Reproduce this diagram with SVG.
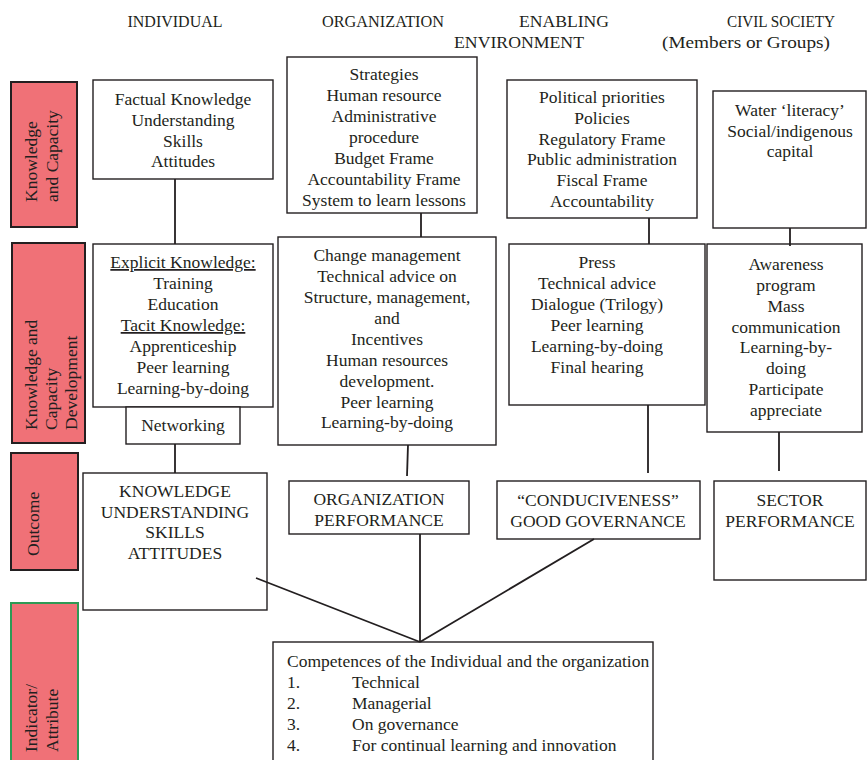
<svg xmlns="http://www.w3.org/2000/svg" width="867" height="760" viewBox="0 0 867 760">
  <style>
    .bg { fill: #ffffff; }
    .box { fill: #ffffff; stroke: #231f20; stroke-width: 1.4; }
    .side { fill: #f07177; stroke: #231f20; stroke-width: 2; }
    .side-g { fill: #f07177; stroke: #2e9a55; stroke-width: 2; }
    text { font-family: "Liberation Serif", "Times New Roman", serif; fill: #231f20; }
    .t { font-size: 17.5px; text-anchor: middle; }
    .l { font-size: 17.5px; text-anchor: start; }
    .h { font-size: 17px; text-anchor: middle; }
    .v { font-size: 17.5px; text-anchor: start; }
    .u { text-decoration: underline; }
    .conn line { stroke: #231f20; stroke-width: 1.8; fill: none; }
  </style>

  <rect class="bg" x="0" y="0" width="867" height="760"/>

  <!-- column headings -->
  <g id="headings">
    <text class="h" x="175" y="27" textLength="95" lengthAdjust="spacingAndGlyphs">INDIVIDUAL</text>
    <text class="h" x="383" y="27" textLength="122" lengthAdjust="spacingAndGlyphs">ORGANIZATION</text>
    <text class="h" x="564" y="27" textLength="90" lengthAdjust="spacingAndGlyphs">ENABLING</text>
    <text class="h" x="519" y="48" textLength="130" lengthAdjust="spacingAndGlyphs">ENVIRONMENT</text>
    <text class="h" x="781" y="27" textLength="108" lengthAdjust="spacingAndGlyphs">CIVIL SOCIETY</text>
    <text class="h" x="746" y="48" textLength="168" lengthAdjust="spacingAndGlyphs">(Members or Groups)</text>
  </g>

  <!-- row labels (vertical) -->
  <g id="row-knowledge">
    <rect class="side" x="11" y="82" width="66" height="145"/>
    <text class="v" transform="translate(37,202) rotate(-90)">Knowledge</text>
    <text class="v" transform="translate(58,202) rotate(-90)">and Capacity</text>
  </g>
  <g id="row-development">
    <rect class="side" x="12" y="243" width="73" height="200"/>
    <text class="v" transform="translate(37,430) rotate(-90)">Knowledge and</text>
    <text class="v" transform="translate(57,430) rotate(-90)">Capacity</text>
    <text class="v" transform="translate(77,430) rotate(-90)">Development</text>
  </g>
  <g id="row-outcome">
    <rect class="side" x="11" y="453" width="67" height="117"/>
    <text class="v" transform="translate(39,556) rotate(-90)">Outcome</text>
  </g>
  <g id="row-indicator">
    <rect class="side-g" x="11" y="603" width="67" height="165"/>
    <text class="v" transform="translate(37,752) rotate(-90)">Indicator/</text>
    <text class="v" transform="translate(58,752) rotate(-90)">Attribute</text>
  </g>

  <!-- individual column -->
  <g id="ind-knowledge">
    <rect class="box" x="93" y="80" width="180" height="99"/>
    <text class="t" x="183" y="105">Factual Knowledge</text>
    <text class="t" x="183" y="126">Understanding</text>
    <text class="t" x="183" y="147">Skills</text>
    <text class="t" x="183" y="167">Attitudes</text>
  </g>
  <g id="ind-development">
    <rect class="box" x="93" y="244" width="180" height="163"/>
    <text class="t u" x="183" y="268">Explicit Knowledge:</text>
    <text class="t" x="183" y="289">Training</text>
    <text class="t" x="183" y="310">Education</text>
    <text class="t u" x="183" y="331">Tacit Knowledge:</text>
    <text class="t" x="183" y="352">Apprenticeship</text>
    <text class="t" x="183" y="373">Peer learning</text>
    <text class="t" x="183" y="394">Learning-by-doing</text>
  </g>
  <g id="ind-networking">
    <rect class="box" x="126" y="407" width="114" height="37"/>
    <text class="t" x="183" y="431">Networking</text>
  </g>
  <g id="ind-outcome">
    <rect class="box" x="83" y="473" width="184" height="137"/>
    <text class="t" x="175" y="497">KNOWLEDGE</text>
    <text class="t" x="175" y="518">UNDERSTANDING</text>
    <text class="t" x="175" y="538">SKILLS</text>
    <text class="t" x="175" y="559">ATTITUDES</text>
  </g>

  <!-- organization column -->
  <g id="org-knowledge">
    <rect class="box" x="287" y="57" width="190" height="156"/>
    <text class="t" x="384" y="80">Strategies</text>
    <text class="t" x="384" y="101">Human resource</text>
    <text class="t" x="384" y="122">Administrative</text>
    <text class="t" x="384" y="143">procedure</text>
    <text class="t" x="384" y="164">Budget Frame</text>
    <text class="t" x="384" y="185">Accountability Frame</text>
    <text class="t" x="384" y="206">System to learn lessons</text>
  </g>
  <g id="org-development">
    <rect class="box" x="278" y="237" width="218" height="208"/>
    <text class="t" x="387" y="261">Change management</text>
    <text class="t" x="387" y="282">Technical advice on</text>
    <text class="t" x="387" y="303">Structure, management,</text>
    <text class="t" x="387" y="324">and</text>
    <text class="t" x="387" y="345">Incentives</text>
    <text class="t" x="387" y="366">Human resources</text>
    <text class="t" x="387" y="387">development.</text>
    <text class="t" x="387" y="408">Peer learning</text>
    <text class="t" x="387" y="428">Learning-by-doing</text>
  </g>
  <g id="org-outcome">
    <rect class="box" x="289" y="481" width="180" height="53"/>
    <text class="t" x="379" y="505">ORGANIZATION</text>
    <text class="t" x="379" y="526">PERFORMANCE</text>
  </g>

  <!-- enabling environment column -->
  <g id="env-knowledge">
    <rect class="box" x="507" y="80" width="190" height="138"/>
    <text class="t" x="602" y="103">Political priorities</text>
    <text class="t" x="602" y="124">Policies</text>
    <text class="t" x="602" y="145">Regulatory Frame</text>
    <text class="t" x="602" y="165">Public administration</text>
    <text class="t" x="602" y="186">Fiscal Frame</text>
    <text class="t" x="602" y="207">Accountability</text>
  </g>
  <g id="env-development">
    <rect class="box" x="509" y="244" width="196" height="161"/>
    <text class="t" x="597" y="268">Press</text>
    <text class="t" x="597" y="289">Technical advice</text>
    <text class="t" x="597" y="310">Dialogue (Trilogy)</text>
    <text class="t" x="597" y="331">Peer learning</text>
    <text class="t" x="597" y="352">Learning-by-doing</text>
    <text class="t" x="597" y="373">Final hearing</text>
  </g>
  <g id="env-outcome">
    <rect class="box" x="497" y="481" width="203" height="58"/>
    <text class="t" x="598" y="506">“CONDUCIVENESS”</text>
    <text class="t" x="598" y="527">GOOD GOVERNANCE</text>
  </g>

  <!-- civil society column -->
  <g id="civ-knowledge">
    <rect class="box" x="713" y="91" width="153" height="137"/>
    <text class="t" x="790" y="116">Water ‘literacy’</text>
    <text class="t" x="790" y="137">Social/indigenous</text>
    <text class="t" x="790" y="157">capital</text>
  </g>
  <g id="civ-development">
    <rect class="box" x="707" y="244" width="155" height="188"/>
    <text class="t" x="786" y="270">Awareness</text>
    <text class="t" x="786" y="291">program</text>
    <text class="t" x="786" y="312">Mass</text>
    <text class="t" x="786" y="333">communication</text>
    <text class="t" x="786" y="353">Learning-by-</text>
    <text class="t" x="786" y="374">doing</text>
    <text class="t" x="786" y="395">Participate</text>
    <text class="t" x="786" y="416">appreciate</text>
  </g>
  <g id="civ-outcome">
    <rect class="box" x="714" y="481" width="152" height="99"/>
    <text class="t" x="790" y="506">SECTOR</text>
    <text class="t" x="790" y="527">PERFORMANCE</text>
  </g>

  <!-- competences -->
  <g id="competences">
    <rect class="box" x="273" y="642" width="380" height="130"/>
    <text class="l" x="287" y="667">Competences of the Individual and the organization</text>
    <text class="l" x="287" y="688">1.</text>
    <text class="l" x="352" y="688">Technical</text>
    <text class="l" x="287" y="709">2.</text>
    <text class="l" x="352" y="709">Managerial</text>
    <text class="l" x="287" y="730">3.</text>
    <text class="l" x="352" y="730">On governance</text>
    <text class="l" x="287" y="751">4.</text>
    <text class="l" x="352" y="751">For continual learning and innovation</text>
  </g>

  <!-- connectors, drawn over the boxes -->
  <g id="connectors" class="conn">
    <line x1="175" y1="179" x2="175" y2="244"/>
    <line x1="175" y1="444" x2="175" y2="473"/>
    <line x1="421" y1="213" x2="421" y2="237"/>
    <line x1="408" y1="445" x2="407" y2="476"/>
    <line x1="649" y1="218" x2="649" y2="244"/>
    <line x1="648" y1="405" x2="648" y2="473"/>
    <line x1="790" y1="228" x2="790" y2="246"/>
    <line x1="779" y1="432" x2="779" y2="471"/>
    <line x1="256" y1="578" x2="420" y2="642"/>
    <line x1="420" y1="534" x2="420" y2="642"/>
    <line x1="594" y1="539" x2="420" y2="642"/>
  </g>
</svg>
